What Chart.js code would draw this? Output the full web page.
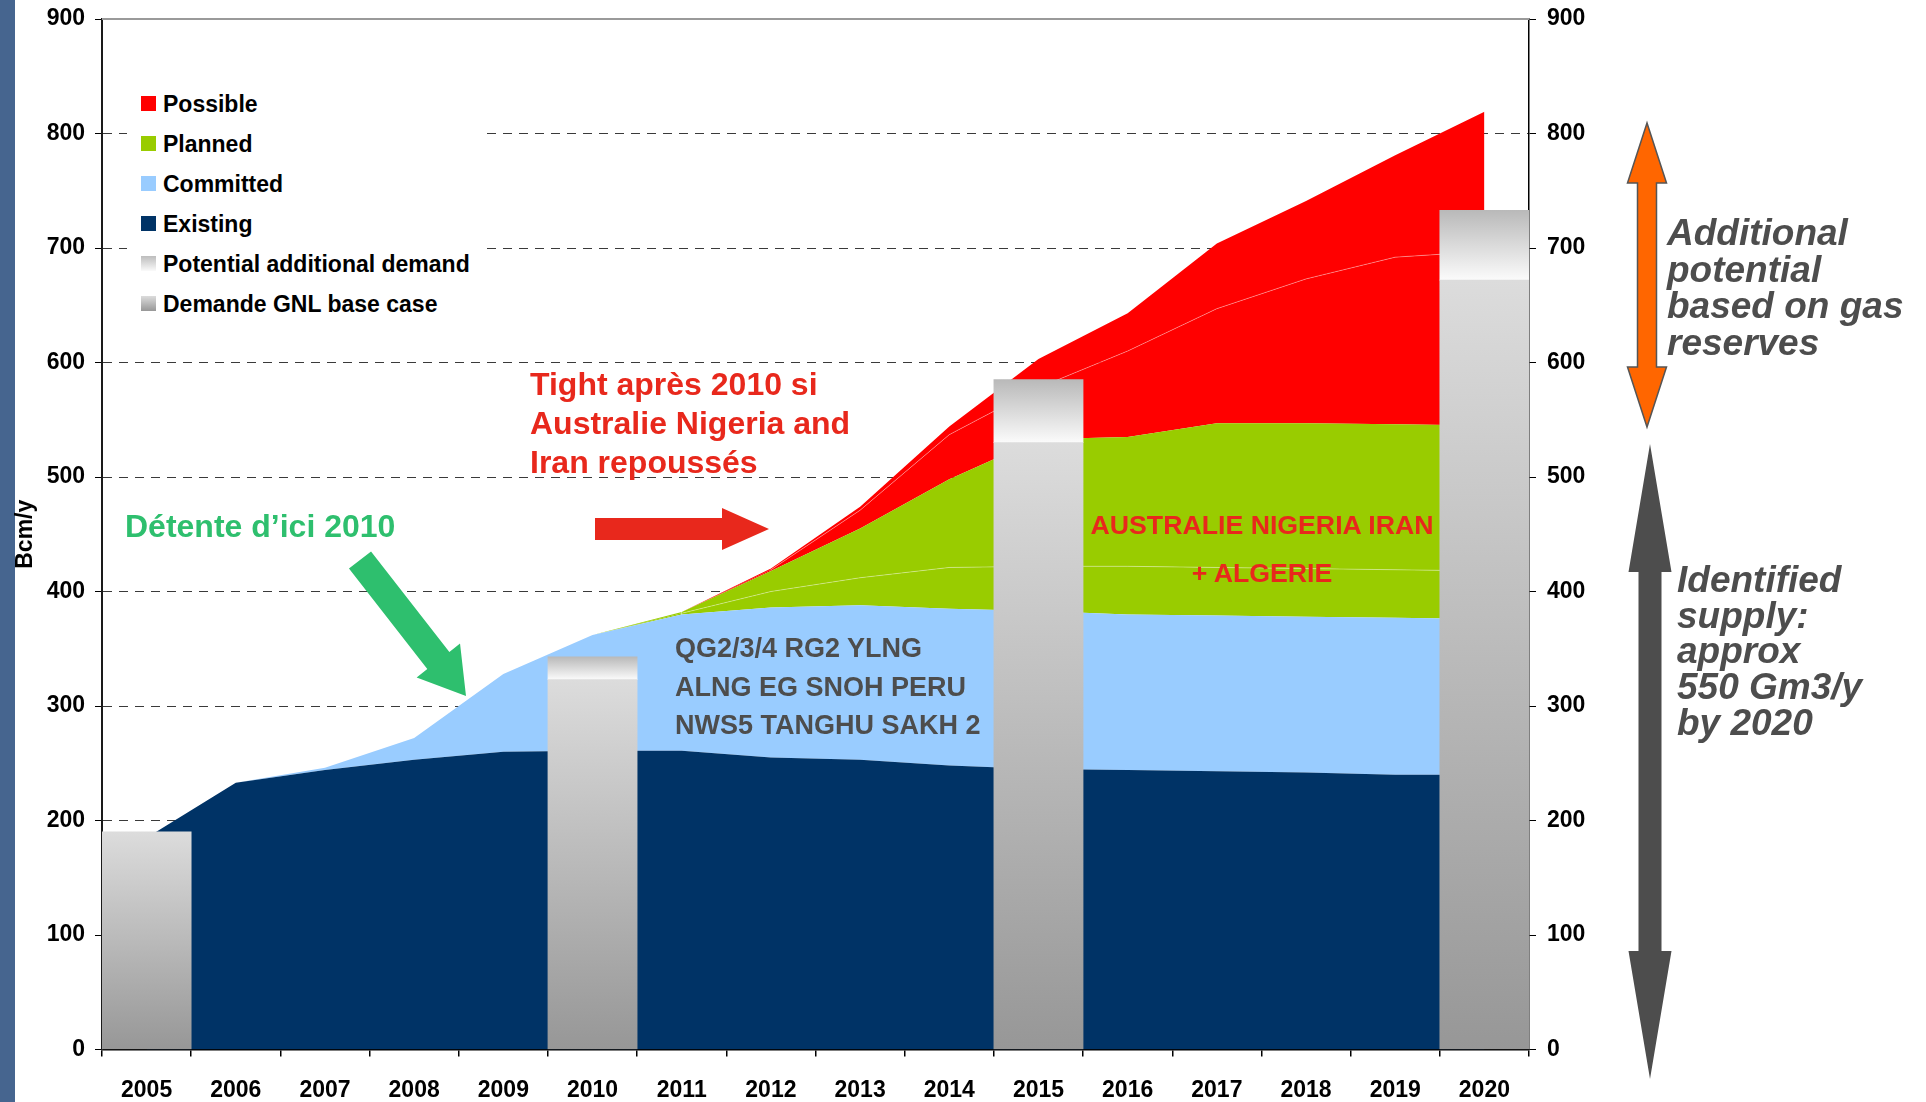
<!DOCTYPE html>
<html lang="en">
<head>
    <meta charset="UTF-8">
    <title>LNG supply and demand</title>
    <script src="https://cdn.jsdelivr.net/npm/chart.js"></script>
    <style>
        body { margin: 0; background: #fff; overflow: hidden; font-family: "Liberation Sans", Arial, sans-serif; }
        #page { position: relative; width: 1926px; height: 1102px; }
        #strip { position: absolute; left: 0; top: 0; width: 15px; height: 1102px; background: #46658f; }
        #chartBox { position: absolute; left: 0; top: 0; width: 1926px; height: 1102px; }
        .note { position: absolute; font-weight: bold; white-space: pre; }
        #legend { position: absolute; left: 127px; top: 80px; width: 358px; height: 245px; background: #fff; }
        .item { position: absolute; left: 14px; height: 40px; line-height: 40px; font-size: 23px; font-weight: bold; color: #000; }
        .swatch { position: absolute; left: 0; top: 12px; width: 15px; height: 15px; }
        .item span.txt { position: absolute; left: 22px; top: 0; white-space: pre; }
    </style>
</head>
<body>
<div id="page">
    <div id="strip"></div>
    <div id="chartBox"><canvas id="lngChart"></canvas></div>
    <div id="legend"></div>

    <div class="note" style="left:530px; top:365px; font-size:32px; line-height:39px; color:#e8281c;">Tight après 2010 si
Australie Nigeria and
Iran repoussés</div>
    <div class="note" style="left:125px; top:508px; font-size:32px; line-height:36px; color:#2ebf6e;">Détente d’ici 2010</div>
    <div class="note" style="left:1062px; top:501px; width:400px; text-align:center; font-size:26.7px; line-height:48px; color:#e8281c;">AUSTRALIE NIGERIA IRAN
+ ALGERIE</div>
    <div class="note" style="left:675px; top:629px; font-size:27px; line-height:38.5px; color:#4d4d4d;">QG2/3/4 RG2 YLNG
ALNG EG SNOH PERU
NWS5 TANGHU SAKH 2</div>
    <div class="note" style="left:1667px; top:215px; font-size:37px; line-height:36.5px; font-style:italic; color:#4d4d4d;">Additional
potential
based on gas
reserves</div>
    <div class="note" style="left:1677px; top:562px; font-size:37px; line-height:35.7px; font-style:italic; color:#4d4d4d;">Identified
supply:
approx
550 Gm3/y
by 2020</div>
</div>

<script>
    // categories
    const years = ['2005', '2006', '2007', '2008', '2009', '2010', '2011', '2012',
                   '2013', '2014', '2015', '2016', '2017', '2018', '2019', '2020'];

    // supply layers (Bcm/y, stacked)
    const existing  = [185, 233, 244, 253, 260, 261, 261, 255, 253, 248, 245, 244, 243, 242, 240, 240];
    const committed = [0, 0, 2, 19, 68, 101, 119, 131, 135, 137, 138, 136, 136, 136, 137, 136];
    const plannedA  = [0, 0, 0, 0, 0, 0, 1, 14, 24, 36, 39, 42, 42, 42, 42, 42];
    const plannedB  = [0, 0, 0, 0, 0, 0, 1, 18, 43, 77, 111, 113, 126, 127, 127, 127];
    const possibleA = [0, 0, 0, 0, 0, 0, 0, 1, 16, 39, 45, 75, 100, 126, 146, 152];
    const possibleB = [0, 0, 0, 0, 0, 0, 0, 1, 3, 7, 25, 33, 57, 68, 89, 122];

    // demand bars
    const baseCase    = [190, null, null, null, null, 323, null, null, null, null, 530, null, null, null, null, 672];
    const extraDemand = [null, null, null, null, null, 20, null, null, null, null, 55, null, null, null, null, 61];

    // y axis ticks
    const yMin = 0, yMax = 900, yStep = 100;

    const tickFont = { family: 'Liberation Sans', size: 23, weight: 'bold' };

    function barGradient(c, from, to, topColor, bottomColor) {
        const chart = c.chart;
        const y = chart.scales.y;
        if (!chart.chartArea || !y || from == null || to == null) return topColor;
        const p0 = y.getPixelForValue(to), p1 = y.getPixelForValue(from);
        if (!isFinite(p0) || !isFinite(p1) || p0 === p1) return topColor;
        const g = chart.ctx.createLinearGradient(0, p0, 0, p1);
        g.addColorStop(0, topColor);
        g.addColorStop(1, bottomColor);
        return g;
    }

    function faintTop(values, color) {
        return c => (values[c.p1DataIndex] > 1 ? color : 'rgba(0,0,0,0)');
    }

    function area(label, data, color, fill, edge) {
        return {
            type: 'line', label: label, data: data, stack: 'supply', order: 1,
            backgroundColor: color, borderColor: 'rgba(0,0,0,0)', borderWidth: 1,
            segment: edge ? { borderColor: faintTop(data, edge) } : undefined,
            fill: fill, pointRadius: 0, pointHoverRadius: 0, tension: 0
        };
    }

    // arrows of the slide, in page pixels
    const arrows = [
        { x1: 1647, y1: 123, x2: 1647, y2: 427, shaft: 19, headW: 39, headL: 60, both: true, fill: '#ff6600', stroke: '#555555' },
        { x1: 1650, y1: 444, x2: 1650, y2: 1079, shaft: 23, headW: 43, headL: 128, both: true, fill: '#4d4d4d' },
        { x1: 595, y1: 529, x2: 769, y2: 529, shaft: 22, headW: 42, headL: 47, both: false, fill: '#e8281c' },
        { x1: 360, y1: 560, x2: 466, y2: 696, shaft: 28, headW: 55, headL: 45, both: false, fill: '#2ebf6e' }
    ];

    function drawArrow(ctx, a) {
        const dx = a.x2 - a.x1, dy = a.y2 - a.y1, len = Math.hypot(dx, dy);
        const ux = dx / len, uy = dy / len, nx = -uy, ny = ux;
        const pt = (s, t) => [a.x1 + ux * s + nx * t, a.y1 + uy * s + ny * t];
        const pts = [];
        if (a.both) pts.push(pt(0, 0), pt(a.headL, a.headW / 2), pt(a.headL, a.shaft / 2));
        else pts.push(pt(0, a.shaft / 2));
        pts.push(pt(len - a.headL, a.shaft / 2), pt(len - a.headL, a.headW / 2), pt(len, 0),
                 pt(len - a.headL, -a.headW / 2), pt(len - a.headL, -a.shaft / 2));
        if (a.both) pts.push(pt(a.headL, -a.shaft / 2), pt(a.headL, -a.headW / 2));
        else pts.push(pt(0, -a.shaft / 2));
        ctx.beginPath();
        pts.forEach((p, i) => (i ? ctx.lineTo(p[0], p[1]) : ctx.moveTo(p[0], p[1])));
        ctx.closePath();
        ctx.fillStyle = a.fill;
        ctx.fill();
        if (a.stroke) {
            ctx.lineWidth = 1.5;
            ctx.strokeStyle = a.stroke;
            ctx.stroke();
        }
    }

    // grey top frame line + arrows
    const extras = {
        id: 'extras',
        afterDraw(chart) {
            const { ctx, chartArea: area } = chart;
            ctx.save();
            ctx.strokeStyle = '#9a9a9a';
            ctx.lineWidth = 2;
            ctx.beginPath();
            ctx.moveTo(area.left, area.top);
            ctx.lineTo(area.right, area.top);
            ctx.stroke();
            arrows.forEach(a => drawArrow(ctx, a));
            ctx.restore();
        }
    };

    // fixed axis sizes so the plot lands where the slide has it
    function fixY(width) {
        return s => { s.width = width; s.paddingTop = 0; s.paddingBottom = 0; };
    }

    const ctx = document.getElementById('lngChart').getContext('2d');
    const chart = new Chart(ctx, {
        type: 'bar',
        data: {
            labels: years,
            datasets: [
                area('Existing', existing, '#003366', 'origin'),
                area('Committed', committed, '#99ccff', '-1'),
                area('Planned', plannedA, '#99cc00', '-1', 'rgba(255,255,255,0.35)'),
                area('Planned (2)', plannedB, '#99cc00', '-1'),
                area('Possible', possibleA, '#ff0000', '-1', 'rgba(255,255,255,0.35)'),
                area('Possible (2)', possibleB, '#ff0000', '-1'),
                {
                    type: 'bar', label: 'Demande GNL base case', data: baseCase, stack: 'demand', order: 0,
                    barPercentage: 1, categoryPercentage: 1, borderWidth: 0,
                    backgroundColor: c => barGradient(c, 0, baseCase[c.dataIndex], '#dcdcdc', '#979797')
                },
                {
                    type: 'bar', label: 'Potential additional demand', data: extraDemand, stack: 'demand', order: 0,
                    barPercentage: 1, categoryPercentage: 1, borderWidth: 0,
                    backgroundColor: c => barGradient(c, baseCase[c.dataIndex],
                        extraDemand[c.dataIndex] == null ? null : baseCase[c.dataIndex] + extraDemand[c.dataIndex],
                        '#b9b9b9', '#fbfbfb')
                }
            ]
        },
        options: {
            responsive: true,
            maintainAspectRatio: false,
            animation: false,
            layout: { padding: { left: 12, top: 19, right: 0, bottom: 0 } },
            plugins: {
                legend: { display: false },
                tooltip: { enabled: false }
            },
            scales: {
                x: {
                    type: 'category',
                    offset: true,
                    grid: { offset: true, drawOnChartArea: false, tickLength: 7, color: '#000', lineWidth: 1.5 },
                    border: { color: '#000', width: 1.5 },
                    ticks: { font: tickFont, color: '#000', padding: 20, autoSkip: false, maxRotation: 0 },
                    afterFit: s => { s.height = 52.5; s.paddingLeft = 0; s.paddingRight = 0; }
                },
                y: {
                    type: 'linear',
                    position: 'left',
                    stacked: true,
                    min: yMin,
                    max: yMax,
                    ticks: { stepSize: yStep, font: tickFont, color: '#000', padding: 10 },
                    grid: {
                        color: c => (c.tick && (c.tick.value === yMin || c.tick.value === yMax)) ? 'rgba(0,0,0,0)' : '#3a3a3a',
                        tickColor: '#000',
                        tickLength: 7,
                        lineWidth: 1
                    },
                    border: { color: '#1a1a1a', width: 2, dash: [9, 7] },
                    title: {
                        display: true, text: 'Bcm/y', color: '#000', padding: 0,
                        font: { family: 'Liberation Sans', size: 23, weight: 'bold' }
                    },
                    afterFit: fixY(90)
                },
                y2: {
                    type: 'linear',
                    position: 'right',
                    min: yMin,
                    max: yMax,
                    ticks: { stepSize: yStep, font: tickFont, color: '#000', padding: 11 },
                    grid: { drawOnChartArea: false, tickLength: 7, color: '#000' },
                    border: { color: '#000', width: 1.5 },
                    afterFit: fixY(397)
                }
            }
        },
        plugins: [extras]
    });

    // legend built from the chart datasets
    const legendOrder = ['Possible', 'Planned', 'Committed', 'Existing', 'Potential additional demand', 'Demande GNL base case'];
    const swatches = {
        'Potential additional demand': 'linear-gradient(#bdbdbd, #fafafa)',
        'Demande GNL base case': 'linear-gradient(#dcdcdc, #979797)'
    };
    const legendEl = document.getElementById('legend');
    legendOrder.forEach((name, i) => {
        const ds = chart.data.datasets.find(d => d.label === name);
        const item = document.createElement('div');
        item.className = 'item';
        item.style.top = (4 + i * 40) + 'px';
        const sw = document.createElement('div');
        sw.className = 'swatch';
        sw.style.background = swatches[name] || ds.backgroundColor;
        const txt = document.createElement('span');
        txt.className = 'txt';
        txt.textContent = ds.label;
        item.appendChild(sw);
        item.appendChild(txt);
        legendEl.appendChild(item);
    });
</script>
</body>
</html>
